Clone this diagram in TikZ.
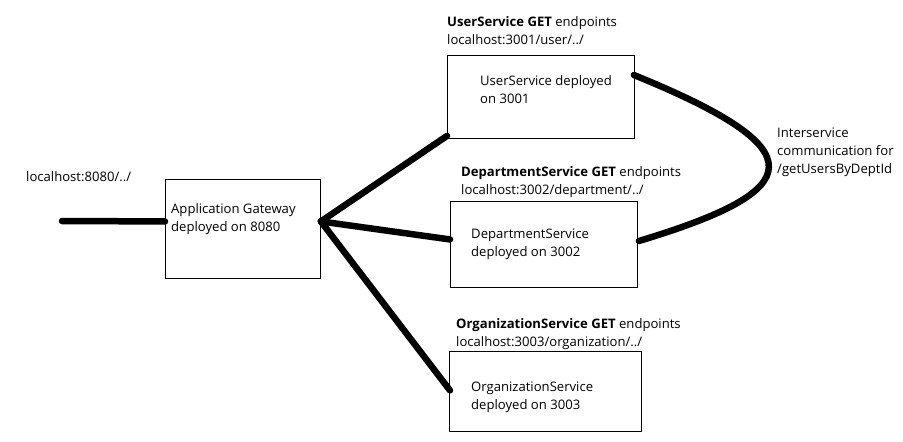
\documentclass[tikz,border=0pt]{standalone}
\usepackage{fontspec}
\setmainfont{Open Sans}
\usetikzlibrary{calc}
\begin{document}
\begin{tikzpicture}[x=1pt,y=-1pt,
  box/.style={draw,line width=0.9pt,inner sep=0pt,anchor=north west},
  txt/.style={inner sep=0pt,anchor=west,align=left,font=\fontsize{13.1}{18}\selectfont},
  wire/.style={line width=6.5pt,line cap=round}]
\useasboundingbox (0,0) rectangle (903,442);
% boxes
\node[box,minimum width=155pt,minimum height=99pt] (gw) at (165,179) {};
\node[box,minimum width=187pt,minimum height=83pt] (us) at (447,55) {};
\node[box,minimum width=187pt,minimum height=86pt] (ds) at (450,201) {};
\node[box,minimum width=192pt,minimum height=80pt] (os) at (449,351) {};
% texts
\node[txt] (inlab) at (26,177) {localhost:8080/../};
\node[txt] (gwt) at (171,219) {Application Gateway\\deployed on 8080};
\node[txt] (usl) at (447,31) {\textbf{UserService GET} endpoints\\localhost:3001/user/../};
\node[txt] (ust) at (480,90) {UserService deployed\\on 3001};
\node[txt] (dsl) at (461,182) {\textbf{DepartmentService GET} endpoints\\localhost:3002/department/../};
\node[txt] (dst) at (471,244) {DepartmentService\\deployed on 3002};
\node[txt] (osl) at (456,334) {\textbf{OrganizationService GET} endpoints\\localhost:3003/organization/../};
\node[txt] (ost) at (471,397) {OrganizationService\\deployed on 3003};
\node[txt] (isl) at (777,152) {Interservice\\communication for\\/getUsersByDeptId};
% connector points
\coordinate (in) at (62,221);
\coordinate (gwin) at ($(gw.west)+(0,-7.5)$);
\coordinate (j) at ($(gw.east)+(0,-7.5)$);
\coordinate (usin) at ($(us.south west)+(0,-3)$);
\coordinate (dsin) at ($(ds.west)+(0,-5)$);
\coordinate (osin) at ($(os.west)+(1,-1)$);
\coordinate (usout) at ($(us.north east)+(-1,20)$);
\coordinate (dsout) at ($(ds.north east)+(1,40)$);
% wires
\draw[wire] (usout) .. controls (818,150) and (808,190) .. (dsout);
\draw[wire] (in) -- (gwin);
\draw[wire] (j) -- (usin);
\draw[wire] (j) -- (dsin);
\draw[wire] (j) -- (osin);
\end{tikzpicture}
\end{document}
